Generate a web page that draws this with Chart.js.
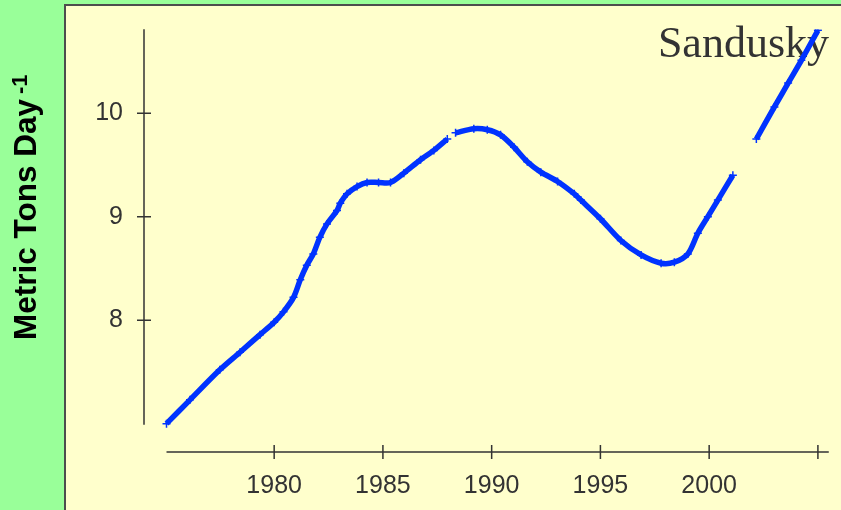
<!DOCTYPE html>
<html>
<head>
<meta charset="utf-8">
<script src="https://cdn.jsdelivr.net/npm/chart.js@4"></script>
<style>
  html, body { margin: 0; padding: 0; background: #99ff99; }
  canvas { display: block; }
</style>
</head>
<body>
<canvas id="sandusky" width="841" height="510"></canvas>
<script>
// Sandusky load, metric tons per day
const years = [
  1975.05, 1976.13, 1977.5, 1978.43, 1979.35, 1980.0, 1980.43, 1980.89,
  1981.2, 1981.5, 1981.8, 1982.1, 1982.43, 1982.89, 1983.04, 1983.35,
  1983.81, 1984.27, 1984.8, 1985.35, 1985.96, 1986.73, 1987.34, 1987.96,
  1988.15, 1988.34, 1989.18, 1989.8, 1990.41, 1991.03, 1991.64, 1992.26,
  1993.03, 1993.8, 1994.1, 1995.0, 1995.94, 1996.87, 1997.79, 1998.4,
  1999.02, 1999.48, 1999.94, 2000.4, 2001.09, 2001.6, 2002.17, 2003.0,
  2003.63, 2004.24, 2005.0
];
const loads = [
  7.00, 7.23, 7.52, 7.69, 7.86, 7.98, 8.08, 8.22,
  8.39, 8.53, 8.64, 8.80, 8.93, 9.06, 9.13, 9.22,
  9.29, 9.33, 9.33, 9.33, 9.42, 9.55, 9.64, 9.75,
  null, 9.81, 9.85, 9.84, 9.79, 9.67, 9.53, 9.43,
  9.34, 9.22, 9.16, 8.98, 8.77, 8.63, 8.55, 8.56,
  8.64, 8.84, 9.00, 9.16, 9.40, null, 9.75, 10.06,
  10.29, 10.51, 10.80
];
const xTicks = [1980, 1985, 1990, 1995, 2000, 2005];
const yTicks = [8, 9, 10];
const xAxisSpan = [1975.05, 2005.5];
const yAxisSpan = [6.99, 10.81];
const siteName = "Sandusky";
const yTitle = "Metric Tons Day";
const yTitleSup = "-1";

const INK = "#333333";

// green page + yellow panel
const panelBg = {
  id: "panelBg",
  beforeDraw(chart) {
    const ctx = chart.ctx;
    ctx.save();
    ctx.fillStyle = "#99ff99";
    ctx.fillRect(0, 0, chart.width, chart.height);
    ctx.fillStyle = "#4d4d4d";
    ctx.fillRect(64, 4, chart.width, chart.height);
    ctx.fillStyle = "#ffffcc";
    ctx.fillRect(66, 6, chart.width, chart.height);
    ctx.restore();
  },
};

// detached axis lines with crossing tick marks, plus y title
const axesR = {
  id: "axesR",
  afterDraw(chart) {
    const { ctx, chartArea, scales } = chart;
    const x = scales.x, y = scales.y;
    ctx.save();
    ctx.strokeStyle = INK;
    ctx.lineWidth = 1.5;
    ctx.beginPath();
    ctx.moveTo(chartArea.left, y.getPixelForValue(yAxisSpan[0]));
    ctx.lineTo(chartArea.left, y.getPixelForValue(yAxisSpan[1]));
    yTicks.forEach(v => {
      const py = y.getPixelForValue(v);
      ctx.moveTo(chartArea.left - 7, py);
      ctx.lineTo(chartArea.left + 7, py);
    });
    ctx.moveTo(x.getPixelForValue(xAxisSpan[0]), chartArea.bottom);
    ctx.lineTo(x.getPixelForValue(xAxisSpan[1]), chartArea.bottom);
    xTicks.forEach(v => {
      const px = x.getPixelForValue(v);
      ctx.moveTo(px, chartArea.bottom - 7);
      ctx.lineTo(px, chartArea.bottom + 7);
    });
    ctx.stroke();

    // y axis title with superscript
    ctx.translate(36, 340);
    ctx.rotate(-Math.PI / 2);
    ctx.fillStyle = "#000000";
    ctx.textBaseline = "alphabetic";
    ctx.textAlign = "left";
    ctx.font = "bold 31.5px 'Liberation Sans', Arial, sans-serif";
    ctx.fillText(yTitle, 0, 0);
    const w = ctx.measureText(yTitle).width;
    ctx.font = "bold 22px 'Liberation Sans', Arial, sans-serif";
    ctx.fillText(yTitleSup, w + 5, -9);
    ctx.restore();
  },
};

const points = years.map((yr, i) => ({ x: yr, y: loads[i] }));

new Chart(document.getElementById("sandusky"), {
  type: "line",
  data: {
    datasets: [{
      data: points,
      borderColor: "#0033ff",
      backgroundColor: "#0033ff",
      borderWidth: 5.5,
      tension: 0.3,
      spanGaps: false,
      pointStyle: "cross",
      pointRadius: 4,
      pointBorderWidth: 1.5,
      pointBorderColor: "#0033ff",
    }],
  },
  options: {
    responsive: false,
    animation: false,
    layout: { autoPadding: false, padding: { left: 0, top: 0, right: 12, bottom: 0 } },
    plugins: {
      legend: { display: false },
      tooltip: { enabled: false },
      title: {
        display: true,
        text: siteName,
        align: "end",
        color: INK,
        font: { family: "'Liberation Serif', 'Times New Roman', serif", size: 44, weight: "normal" },
        padding: { top: 19, bottom: -42.5 },
      },
    },
    scales: {
      x: {
        type: "linear",
        min: 1974.015,
        max: 2005.51,
        grid: { display: false, drawTicks: false },
        border: { display: false },
        afterBuildTicks: s => { s.ticks = xTicks.map(v => ({ value: v })); },
        afterFit: s => { s.height = 58; s.paddingLeft = 0; s.paddingRight = 0; },
        ticks: {
          color: INK,
          padding: 19,
          maxRotation: 0,
          autoSkip: false,
          font: { family: "'Liberation Sans', Arial, sans-serif", size: 25 },
          callback: v => (v === 2005 ? "" : String(v)),
        },
      },
      y: {
        type: "linear",
        min: 6.726,
        max: 10.81,
        grid: { display: false, drawTicks: false },
        border: { display: false },
        afterBuildTicks: s => { s.ticks = yTicks.map(v => ({ value: v })); },
        afterFit: s => { s.width = 144; s.paddingTop = 0; s.paddingBottom = 0; },
        ticks: {
          color: INK,
          padding: 21,
          font: { family: "'Liberation Sans', Arial, sans-serif", size: 25 },
          callback: v => String(v),
        },
      },
    },
  },
  plugins: [panelBg, axesR],
});
</script>
</body>
</html>
